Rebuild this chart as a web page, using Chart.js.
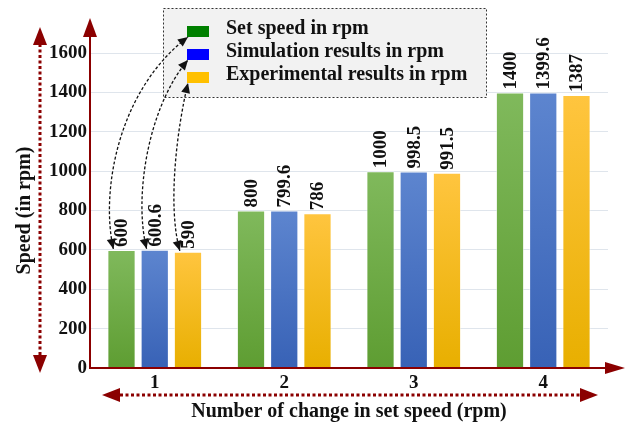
<!DOCTYPE html>
<html>
<head>
<meta charset="utf-8">
<title>Set speed vs simulation vs experiment</title>
<script src="https://cdn.jsdelivr.net/npm/chart.js@4.4.1/dist/chart.umd.min.js"></script>
<style>
  html, body { margin: 0; padding: 0; background: #fff; }
  #wrap { width: 632px; height: 426px; }
</style>
</head>
<body>
<div id="wrap"><canvas id="chart-speed"></canvas></div>
<script>
// Dados das medições de velocidade
const categories = ['1', '2', '3', '4'];
const setSpeed = [600, 800, 1000, 1400];
const simulation = [600.6, 799.6, 998.5, 1399.6];
const experimental = [590, 786, 991.5, 1387];
const yTicks = [0, 200, 400, 600, 800, 1000, 1200, 1400, 1600];

const seriesLabels = ['Set speed in rpm', 'Simulation results in rpm', 'Experimental results in rpm'];
const legendColors = ['#008000', '#0000ff', '#ffc000'];

const SERIF = '"Liberation Serif", "Times New Roman", serif';
const AXIS_RED = '#8b0000';

// Degradê vertical por barra (claro em cima, escuro embaixo)
function barGradient(top, bottom) {
  return (ctx) => {
    const chart = ctx.chart;
    if (!chart.chartArea || ctx.type !== 'data') return bottom;
    const y = chart.scales.y;
    const g = chart.ctx.createLinearGradient(0, y.getPixelForValue(ctx.parsed.y), 0, y.getPixelForValue(0));
    g.addColorStop(0, top);
    g.addColorStop(1, bottom);
    return g;
  };
}

function arrowHead(c, x, y, angle, len, half, color) {
  c.save();
  c.translate(x, y);
  c.rotate(angle);
  c.beginPath();
  c.moveTo(0, 0);
  c.lineTo(-len, -half);
  c.lineTo(-len, half);
  c.closePath();
  c.fillStyle = color;
  c.fill();
  c.restore();
}

function dashedArrow(c, x1, y1, x2, y2) {
  const a = Math.atan2(y2 - y1, x2 - x1);
  const len = 18;
  c.save();
  c.strokeStyle = AXIS_RED;
  c.lineWidth = 3;
  c.setLineDash([3, 2.5]);
  c.beginPath();
  c.moveTo(x1 + Math.cos(a) * len, y1 + Math.sin(a) * len);
  c.lineTo(x2 - Math.cos(a) * len, y2 - Math.sin(a) * len);
  c.stroke();
  c.restore();
  arrowHead(c, x2, y2, a, len, 7, AXIS_RED);
  arrowHead(c, x1, y1, a + Math.PI, len, 7, AXIS_RED);
}

// Rótulos de valor girados acima das barras
const valueLabels = {
  id: 'valueLabels',
  afterDatasetsDraw(chart) {
    const c = chart.ctx;
    c.save();
    c.font = 'bold 19px ' + SERIF;
    c.fillStyle = '#111';
    c.textAlign = 'left';
    c.textBaseline = 'middle';
    chart.data.datasets.forEach((ds, i) => {
      chart.getDatasetMeta(i).data.forEach((bar, j) => {
        c.save();
        c.translate(bar.x + 1, bar.y - 3);
        c.rotate(-Math.PI / 2);
        c.fillText(String(ds.data[j]), 0, 0);
        c.restore();
      });
    });
    c.restore();
  }
};

// Eixos com setas, legenda tracejada e setas curvas
const decorations = {
  id: 'decorations',
  afterDraw(chart) {
    const c = chart.ctx;
    const area = chart.chartArea;
    const x0 = area.left, yb = area.bottom;

    // eixos sólidos
    c.save();
    c.strokeStyle = AXIS_RED;
    c.lineWidth = 2;
    c.beginPath();
    c.moveTo(x0, 36);
    c.lineTo(x0, yb);
    c.lineTo(606, yb);
    c.stroke();
    c.restore();
    arrowHead(c, x0, 18, -Math.PI / 2, 19, 7, AXIS_RED);
    arrowHead(c, 625, yb, 0, 20, 6, AXIS_RED);

    // setas tracejadas dos títulos
    dashedArrow(c, 40, 373, 40, 27);
    dashedArrow(c, 102, 395, 598, 395);

    // legenda
    const box = { x: 163, y: 8, w: 323, h: 89 };
    c.save();
    c.fillStyle = '#f2f2f2';
    c.fillRect(box.x, box.y, box.w, box.h);
    c.strokeStyle = '#333';
    c.lineWidth = 1;
    c.setLineDash([2, 2]);
    c.strokeRect(box.x + 0.5, box.y + 0.5, box.w, box.h);
    c.setLineDash([]);
    c.font = 'bold 20px ' + SERIF;
    c.textBaseline = 'middle';
    const rows = [29, 52, 75];
    const swatches = [];
    rows.forEach((ry, i) => {
      c.fillStyle = legendColors[i];
      c.fillRect(187, ry - 3, 22, 11);
      swatches.push({ x: 187, y: ry + 8 });
      c.fillStyle = '#111';
      c.fillText(seriesLabels[i], 226, ry);
    });
    c.restore();

    // setas curvas ligando a legenda às barras do primeiro grupo
    c.save();
    c.strokeStyle = '#111';
    c.lineWidth = 1.3;
    chart.data.datasets.forEach((ds, i) => {
      const bar = chart.getDatasetMeta(i).data[0];
      const p0 = { x: bar.x - bar.width / 2 + 6, y: bar.y - 1 };
      const p3 = { x: swatches[i].x + 1, y: swatches[i].y };
      const c1 = { x: p0.x - 13, y: p0.y + (p3.y - p0.y) * 0.27 };
      const c2 = { x: p0.x + (p3.x - p0.x) * 0.1 - 3, y: p0.y + (p3.y - p0.y) * 0.75 };
      c.setLineDash([3, 2]);
      c.beginPath();
      c.moveTo(p0.x, p0.y);
      c.bezierCurveTo(c1.x, c1.y, c2.x, c2.y, p3.x, p3.y);
      c.stroke();
      c.setLineDash([]);
      arrowHead(c, p0.x, p0.y, Math.atan2(p0.y - c1.y, p0.x - c1.x), 10, 4.5, '#111');
      arrowHead(c, p3.x, p3.y, Math.atan2(p3.y - c2.y, p3.x - c2.x), 10, 4.5, '#111');
    });
    c.restore();
  }
};

const ctx = document.getElementById('chart-speed').getContext('2d');
new Chart(ctx, {
  type: 'bar',
  data: {
    labels: categories,
    datasets: [
      { label: seriesLabels[0], data: setSpeed, backgroundColor: barGradient('#80b95c', '#5e9d32'), borderColor: 'rgba(255,255,255,0.5)', borderWidth: 1 },
      { label: seriesLabels[1], data: simulation, backgroundColor: barGradient('#5d85cf', '#3862b6'), borderColor: 'rgba(255,255,255,0.5)', borderWidth: 1 },
      { label: seriesLabels[2], data: experimental, backgroundColor: barGradient('#ffc53f', '#e8af00'), borderColor: 'rgba(255,255,255,0.5)', borderWidth: 1 }
    ]
  },
  options: {
    responsive: true,
    maintainAspectRatio: false,
    animation: false,
    layout: { padding: { top: 53, right: 24, bottom: 0, left: 0 } },
    datasets: { bar: { categoryPercentage: 0.77, barPercentage: 0.85 } },
    plugins: {
      legend: { display: false },
      tooltip: { enabled: false }
    },
    scales: {
      x: {
        grid: { display: false, drawTicks: false },
        border: { display: false },
        ticks: { color: '#111', padding: 4, font: { family: SERIF, size: 19, weight: 'bold' } },
        title: {
          display: true,
          text: 'Number of change in set speed (rpm)',
          color: '#111',
          padding: { top: 0, bottom: 2 },
          font: { family: SERIF, size: 20, weight: 'bold' }
        },
        afterFit(scale) { scale.height = 58; }
      },
      y: {
        min: 0,
        max: 1600,
        afterBuildTicks(scale) { scale.ticks = yTicks.map(v => ({ value: v })); },
        grid: { color: '#dfe5ec', lineWidth: 1, drawTicks: false },
        border: { display: false },
        ticks: {
          color: '#111',
          padding: 3,
          font: { family: SERIF, size: 19, weight: 'bold' },
          callback: (v) => String(v)
        },
        title: {
          display: true,
          text: 'Speed (in rpm)',
          color: '#111',
          padding: { top: 13, bottom: 0 },
          font: { family: SERIF, size: 20, weight: 'bold' }
        },
        afterFit(scale) { scale.width = 90; }
      }
    }
  },
  plugins: [valueLabels, decorations]
});
</script>
</body>
</html>
